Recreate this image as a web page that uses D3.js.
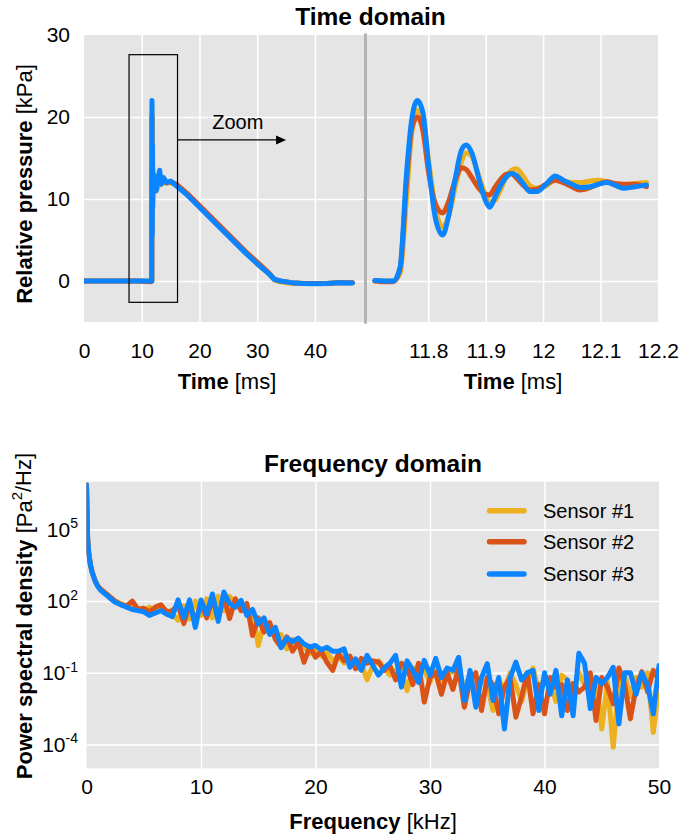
<!DOCTYPE html>
<html>
<head>
<meta charset="utf-8">
<script src="https://cdn.jsdelivr.net/npm/d3@7"></script>
<style>
  html, body { margin: 0; padding: 0; background: #fff; }
  svg { display: block; }
  text { font-family: "Liberation Sans", Arial, Helvetica, sans-serif; fill: #000; }
</style>
</head>
<body>
<svg id="chart" width="682" height="838"></svg>
<script>
// ---------------- DATA ----------------
const seriesNames = ["Sensor #1", "Sensor #2", "Sensor #3"];
const seriesColors = ["#EDB120", "#D95319", "#0A84FF"];

// Time domain, full record (ms, kPa)
const fullTime = [0, 3, 6, 9, 11.5, 11.74, 11.78, 11.82, 11.87, 11.91, 11.95, 12.2, 12.5, 12.8, 13.1, 13.4, 13.8, 14.3, 15, 16, 18, 20, 22, 24, 26, 28, 30, 32, 33, 34, 36, 38, 40, 42, 44, 46.5];
const fullP1 = [0, 0, 0, 0, 0, 0, 20.8, 6.6, 15.6, 9.6, 13.7, 11.2, 11.0, 11.4, 12.0, 11.9, 12.0, 11.9, 12.0, 11.7, 10.5, 9.1, 7.7, 6.3, 4.9, 3.5, 2.1, 0.9, 0.1, -0.1, -0.3, -0.3, -0.3, -0.3, -0.2, -0.2];
const fullP2 = [0, 0, 0, 0, -0.1, 0, 20.0, 8.3, 13.8, 10.5, 13.1, 12.0, 12.3, 12.5, 12.3, 12.1, 12.2, 12.0, 12.1, 11.8, 10.6, 9.2, 7.8, 6.4, 5.0, 3.6, 2.3, 1.0, 0.2, 0.0, -0.2, -0.3, -0.3, -0.3, -0.2, -0.2];
const fullP3 = [0, 0, 0, 0, 0, 0, 22.0, 5.6, 16.6, 9.0, 13.0, 11.8, 11.0, 12.5, 13.5, 11.8, 12.6, 12.0, 12.2, 11.6, 10.4, 9.0, 7.6, 6.2, 4.8, 3.4, 2.1, 0.9, 0.2, 0.0, -0.2, -0.3, -0.35, -0.3, -0.2, -0.25];

// Time domain, zoomed record (ms, kPa)
const zoomTime = [11.707, 11.725, 11.739, 11.751, 11.762, 11.771, 11.781, 11.791, 11.80, 11.812, 11.825, 11.835, 11.847, 11.858, 11.866, 11.876, 11.888, 11.899, 11.907, 11.916, 11.925, 11.935, 11.945, 11.953, 11.965, 11.977, 11.989, 12.005, 12.021, 12.035, 12.05, 12.064, 12.082, 12.096, 12.111, 12.125, 12.140, 12.160, 12.180];
const zoomP1 = [0.0, 0.0, 0.0, 1.0, 10, 18, 20.8, 19.8, 15, 9, 6.6, 7.8, 11.5, 14.6, 15.6, 15.2, 12.8, 10.6, 9.6, 9.8, 11.0, 12.6, 13.5, 13.7, 12.8, 11.6, 11.3, 11.6, 12.3, 12.2, 12.0, 12.0, 12.2, 12.3, 12.1, 11.8, 11.7, 11.9, 12.0];
const zoomP2 = [0.0, -0.1, -0.1, 1.5, 12, 18.5, 20.0, 18.2, 13.5, 9.5, 8.3, 9.6, 12.3, 13.8, 13.6, 12.6, 11.3, 10.6, 10.5, 11.4, 12.3, 13.0, 13.1, 12.6, 11.7, 11.1, 11.2, 11.8, 12.3, 12.0, 11.5, 11.1, 11.4, 11.8, 12.1, 11.9, 11.8, 11.8, 11.5];
const zoomP3 = [0.05, 0.0, 0.0, 1.7, 13, 19.6, 22.0, 20.4, 14.5, 7.8, 5.6, 7.8, 12.5, 16.0, 16.6, 15.6, 12.5, 9.9, 9.0, 10.2, 11.5, 12.6, 13.1, 12.9, 11.9, 10.9, 10.9, 11.8, 12.8, 12.3, 11.8, 11.4, 11.5, 11.8, 12.0, 11.7, 11.3, 11.5, 11.7];

// Zoom box (ms, kPa) and arrow tip
const zoomBoxTime = [7.8, 16.2];
const zoomBoxP = [-2.6, 27.6];
const arrowTime = [16.2, 35];
const arrowP = 17.2;

// Frequency domain (kHz) and log10 of PSD (Pa^2/Hz)
const freq = [0, 0.1, 0.2, 0.35, 0.5, 0.75, 1, 1.25, 1.5, 1.75,
  2, 2.5, 3, 3.5, 4, 4.5, 5, 5.5, 6, 6.5, 7, 7.5, 8, 8.5, 9, 9.5, 10, 10.5, 11, 11.5,
  12, 12.5, 13, 13.5, 14, 14.5, 15, 15.5, 16, 16.5, 17, 17.5, 18, 18.5, 19, 19.5, 20, 20.5, 21, 21.5,
  22, 22.5, 23, 23.5, 24, 24.5, 25, 25.5, 26, 26.5, 27, 27.5, 28, 28.5, 29, 29.5, 30, 30.5, 31, 31.5,
  32, 32.5, 33, 33.5, 34, 34.5, 35, 35.5, 36, 36.5, 37, 37.5, 38, 38.5, 39, 39.5, 40, 40.5, 41, 41.5,
  42, 42.5, 43, 43.5, 44, 44.5, 45, 45.5, 46, 46.5, 47, 47.5, 48, 48.5, 49, 49.5, 50];
const psd1Log10 = [6.85, 4.62, 4.02, 3.52, 3.22, 2.87, 2.63, 2.5, 2.4, 2.3,
  2.2, 2.0, 1.9, 1.8, 1.75, 1.7, 1.6, 1.75, 1.5, 1.7,
  1.6, 1.45, 1.2, 1.8, 1.25, 2.0, 1.4, 2.1, 1.3, 2.2,
  1.6, 2.2, 1.8, 1.9, 1.5, 1.6, 0.14, 1.1, 0.8, 0.5,
  0.6, 0.0, 0.4, 0.2, 0.1, -0.2, 0.0, -0.3, -0.15, -0.5,
  -0.3, -0.6, -0.4, -0.5, -0.6, -1.3, -0.7, -0.5, -0.8, -1.1,
  -0.9, -0.9, -1.75, -0.8, -1.2, -0.9, -1.4, -0.7, -1.3, -1.1,
  -0.9, -1.2, -1.6, -1.1, -1.9, -1.3, -1.5, -2.58, -1.3, -1.7,
  -1.0, -1.5, -2.2, -1.3, -0.8, -1.8, -1.2, -1.4, -2.2, -1.1,
  -1.3, -1.9, -1.0, -1.5, -1.9, -1.2, -3.35, -1.4, -4.12, -1.5,
  -1.1, -2.0, -1.2, -1.6, -1.0, -3.5, -1.5];
const psd2Log10 = [6.85, 4.6, 4.0, 3.5, 3.2, 2.85, 2.62, 2.5, 2.4, 2.3,
  2.2, 2.0, 1.85, 1.8, 2.0, 1.65, 1.7, 1.55, 1.75, 1.85,
  1.55, 1.6, 1.85, 1.06, 1.9, 1.14, 1.9, 1.3, 2.1, 1.33,
  2.2, 1.27, 2.1, 1.6, 1.9, 0.56, 1.3, 0.7, 1.1, 0.4,
  0.07, 0.5, -0.1, 0.3, -0.56, 0.1, -0.35, -0.1, -0.56, -0.9,
  -0.2, -0.5, -0.3, -0.83, -0.4, -0.6, -0.5, -0.55, -0.9, -0.7,
  -1.3, -0.6, -0.8, -1.5, -0.6, -2.23, -1.2, -1.0, -1.9, -1.0,
  -1.7, -0.8, -2.44, -1.3, -1.0, -2.58, -1.2, -1.5, -2.72, -1.6,
  -1.2, -2.86, -2.0, -1.0, -2.72, -1.5, -2.72, -1.2, -1.6, -1.5,
  -2.58, -1.45, -1.8, -1.6, -1.0, -3.0, -1.2, -1.6, -2.3, -0.8,
  -1.5, -2.93, -1.6, -0.95, -1.8, -0.9, -1.3];
const psd3Log10 = [6.87, 4.6, 4.0, 3.5, 3.2, 2.85, 2.6, 2.45, 2.35, 2.25,
  2.15, 1.95, 1.85, 1.75, 1.65, 1.6, 1.55, 1.4, 1.5, 1.6,
  1.45, 1.35, 2.05, 1.3, 2.05, 0.9, 2.05, 1.45, 2.3, 1.15,
  2.38, 1.9, 1.75, 2.03, 1.4, 1.65, 1.05, 1.3, 0.6, 0.9,
  0.05, 0.45, 0.3, 0.45, 0.2, 0.08, 0.14, -0.04, 0.07, -0.1,
  -0.1, 0.0, -0.77, -0.42, -0.9, -0.27, -0.69, -1.1, -0.8, -0.6,
  -0.27, -1.6, -0.5, -0.9, -1.4, -0.48, -1.1, -0.4, -1.2, -0.8,
  -0.9, -0.35, -2.16, -0.9, -2.44, -1.2, -0.62, -2.16, -1.2, -3.35,
  -1.2, -0.55, -1.3, -1.0, -0.9, -2.58, -1.0, -1.9, -0.9, -2.8,
  -1.3, -2.8, -0.18, -0.6, -2.5, -1.2, -1.45, -1.2, -0.77, -3.14,
  -1.0, -1.0, -1.9, -1.0, -1.5, -2.72, -0.7];

// Tick values
const fullTimeTicks = [0, 10, 20, 30, 40];
const zoomTimeTicks = [11.8, 11.9, 12, 12.1, 12.2];
const pressureTicks = [0, 10, 20, 30];
const freqTicks = [0, 10, 20, 30, 40, 50];
const psdTickExp = [-4, -1, 2, 5];

// ---------------- DRAWING ----------------
const svg = d3.select("#chart");
const FONT_TICK = 21, FONT_LABEL = 22, FONT_TITLE = 24.5;
const bgColor = "#e5e5e5";

// Scales
const xL = d3.scaleLinear().domain([0, 48.5]).range([84, 364]);
const xR = d3.scaleLinear().domain([11.6933, 12.2]).range([367, 658]);
const yT = d3.scaleLinear().domain([-5, 30]).range([322, 35]);
const xB = d3.scaleLinear().domain([0, 50]).range([86.5, 659]);
const yB = d3.scaleLog().domain([1e-5, 1e7]).range([768.3, 481.7]);

const defs = svg.append("defs");
function clip(id, x0, x1, y0, y1) {
  defs.append("clipPath").attr("id", id).append("rect")
    .attr("x", x0).attr("y", y0).attr("width", x1 - x0).attr("height", y1 - y0);
}

// Panel backgrounds
function panel(xs, ys) {
  svg.append("rect").attr("x", xs.range()[0]).attr("y", ys.range()[1])
    .attr("width", xs.range()[1] - xs.range()[0])
    .attr("height", ys.range()[0] - ys.range()[1])
    .attr("fill", bgColor);
}
panel(xL, yT); panel(xR, yT); panel(xB, yB);
clip("clipL", 84, 364, 35, 322);
clip("clipR", 367, 658, 35, 322);
clip("clipB", 86.5, 659, 481.7, 768.3);

// Gridlines via axes
function vGrid(xs, ys, ticks) {
  const inner = ticks.filter(t => xs(t) > xs.range()[0] + 1 && xs(t) < xs.range()[1] - 1);
  svg.append("g").attr("transform", `translate(0,${ys.range()[0]})`)
    .call(d3.axisBottom(xs).tickValues(inner).tickSize(-(ys.range()[0] - ys.range()[1])).tickFormat(""))
    .call(g => g.select(".domain").remove())
    .call(g => g.selectAll("line").attr("stroke", "#fff").attr("stroke-width", 1.5));
}
function hGrid(xs, ys, ticks) {
  const inner = ticks.filter(t => ys(t) < ys.range()[0] - 1 && ys(t) > ys.range()[1] + 1);
  svg.append("g").attr("transform", `translate(${xs.range()[0]},0)`)
    .call(d3.axisLeft(ys).tickValues(inner).tickSize(-(xs.range()[1] - xs.range()[0])).tickFormat(""))
    .call(g => g.select(".domain").remove())
    .call(g => g.selectAll("line").attr("stroke", "#fff").attr("stroke-width", 1.5));
}
vGrid(xL, yT, fullTimeTicks); hGrid(xL, yT, pressureTicks);
vGrid(xR, yT, zoomTimeTicks); hGrid(xR, yT, pressureTicks);
const psdTicks = psdTickExp.map(e => Math.pow(10, e));
vGrid(xB, yB, freqTicks); hGrid(xB, yB, psdTicks);

// Separator between full and zoomed views
svg.append("line").attr("x1", 365.5).attr("x2", 365.5).attr("y1", 34.5).attr("y2", 322.5)
  .attr("stroke", "#b3b3b3").attr("stroke-width", 3).attr("stroke-linecap", "round");

// Tick labels via axes
function styleTicks(g) {
  g.select(".domain").remove();
  g.selectAll("line").remove();
  g.selectAll("text").attr("font-size", FONT_TICK).attr("fill", "#000")
    .attr("font-family", '"Liberation Sans", Arial, sans-serif');
}
svg.append("g").attr("transform", `translate(0,${yT.range()[0]})`)
  .call(d3.axisBottom(xL).tickValues(fullTimeTicks).tickSize(0).tickPadding(20.6).tickFormat(d3.format("d")))
  .call(styleTicks);
svg.append("g").attr("transform", `translate(0,${yT.range()[0]})`)
  .call(d3.axisBottom(xR).tickValues(zoomTimeTicks).tickSize(0).tickPadding(20.6).tickFormat(d => String(+d.toFixed(1))))
  .call(styleTicks);
svg.append("g").attr("transform", `translate(${xL.range()[0]},0)`)
  .call(d3.axisLeft(yT).tickValues(pressureTicks).tickSize(0).tickPadding(14).tickFormat(d3.format("d")))
  .call(styleTicks);
svg.append("g").attr("transform", `translate(0,${yB.range()[0]})`)
  .call(d3.axisBottom(xB).tickValues(freqTicks).tickSize(0).tickPadding(11).tickFormat(d3.format("d")))
  .call(styleTicks);
svg.append("g").attr("transform", `translate(${xB.range()[0]},0)`)
  .call(d3.axisLeft(yB).tickValues(psdTicks).tickSize(0).tickPadding(8.5).tickFormat(() => ""))
  .call(styleTicks)
  .call(g => g.selectAll(".tick text").each(function(d) {
    const t = d3.select(this);
    const e = Math.round(Math.log10(d));
    t.text(null);
    t.append("tspan").text("10");
    t.append("tspan").attr("font-size", 14).attr("dy", "-0.6em").text(String(e));
  }));

// Lines
const lineL = d3.line().x(d => xL(d[0])).y(d => yT(d[1])).curve(d3.curveLinear);
const lineR = d3.line().x(d => xR(d[0])).y(d => yT(d[1])).curve(d3.curveMonotoneX);
const lineB = d3.line().x(d => xB(d[0])).y(d => yB(Math.pow(10, d[1]))).curve(d3.curveLinear);

const fullSeries = [fullP1, fullP2, fullP3];
const zoomSeries = [zoomP1, zoomP2, zoomP3];
const psdSeries = [psd1Log10, psd2Log10, psd3Log10];

const gL = svg.append("g").attr("clip-path", "url(#clipL)");
const gR = svg.append("g").attr("clip-path", "url(#clipR)");
const gB = svg.append("g").attr("clip-path", "url(#clipB)");
fullSeries.forEach((vals, i) => {
  gL.append("path").datum(fullTime.map((t, k) => [t, vals[k]]))
    .attr("d", lineL).attr("fill", "none").attr("stroke", seriesColors[i])
    .attr("stroke-width", 5).attr("stroke-linejoin", "round").attr("stroke-linecap", "round");
});
zoomSeries.forEach((vals, i) => {
  gR.append("path").datum(zoomTime.map((t, k) => [t, vals[k]]))
    .attr("d", lineR).attr("fill", "none").attr("stroke", seriesColors[i])
    .attr("stroke-width", 5).attr("stroke-linejoin", "round").attr("stroke-linecap", "round");
});
psdSeries.forEach((vals, i) => {
  gB.append("path").datum(freq.map((f, k) => [f, vals[k]]))
    .attr("d", lineB).attr("fill", "none").attr("stroke", seriesColors[i])
    .attr("stroke-width", 5).attr("stroke-linejoin", "round").attr("stroke-linecap", "round");
});

// Zoom box + arrow
svg.append("rect")
  .attr("x", xL(zoomBoxTime[0])).attr("y", yT(zoomBoxP[1]))
  .attr("width", xL(zoomBoxTime[1]) - xL(zoomBoxTime[0]))
  .attr("height", yT(zoomBoxP[0]) - yT(zoomBoxP[1]))
  .attr("fill", "none").attr("stroke", "#000").attr("stroke-width", 1.2);
const ax0 = xL(arrowTime[0]), ax1 = xL(arrowTime[1]), ay = yT(arrowP);
svg.append("line").attr("x1", ax0).attr("x2", ax1 - 8).attr("y1", ay).attr("y2", ay)
  .attr("stroke", "#000").attr("stroke-width", 1.3);
svg.append("path").attr("d", `M${ax1},${ay} L${ax1 - 10},${ay - 4.5} L${ax1 - 10},${ay + 4.5} Z`).attr("fill", "#000");
svg.append("text").attr("x", (ax0 + ax1) / 2 + 6).attr("y", 129).attr("text-anchor", "middle")
  .attr("font-size", 20).text("Zoom");

// Titles
svg.append("text").attr("x", 370.5).attr("y", 25).attr("text-anchor", "middle")
  .attr("font-size", FONT_TITLE).attr("font-weight", "bold").text("Time domain");
svg.append("text").attr("x", 373).attr("y", 471.5).attr("text-anchor", "middle")
  .attr("font-size", FONT_TITLE).attr("font-weight", "bold").text("Frequency domain");

// Axis labels
function xLabel(x, y, bold, normal) {
  const t = svg.append("text").attr("x", x).attr("y", y).attr("text-anchor", "middle").attr("font-size", FONT_LABEL);
  t.append("tspan").attr("font-weight", "bold").text(bold);
  t.append("tspan").text(normal);
  return t;
}
xLabel(227, 389, "Time", " [ms]");
xLabel(513, 389, "Time", " [ms]");
xLabel(373, 829, "Frequency", " [kHz]");

const yl1 = svg.append("text").attr("transform", "translate(31.5,184) rotate(-90)")
  .attr("text-anchor", "middle").attr("font-size", FONT_LABEL);
yl1.append("tspan").attr("font-weight", "bold").text("Relative pressure");
yl1.append("tspan").text(" [kPa]");

const yl2 = svg.append("text").attr("transform", "translate(31.5,616) rotate(-90)")
  .attr("text-anchor", "middle").attr("font-size", FONT_LABEL);
yl2.append("tspan").attr("font-weight", "bold").text("Power spectral density");
yl2.append("tspan").text(" [Pa");
yl2.append("tspan").attr("font-size", 15).attr("dy", "-0.65em").text("2");
yl2.append("tspan").attr("dy", "0.43em").text("/Hz]");

// Legend
const legY = [510.7, 541.7, 574];
seriesNames.forEach((name, i) => {
  svg.append("line").attr("x1", 489.5).attr("x2", 524).attr("y1", legY[i]).attr("y2", legY[i])
    .attr("stroke", seriesColors[i]).attr("stroke-width", 5.5).attr("stroke-linecap", "round");
  svg.append("text").attr("x", 543).attr("y", legY[i]).attr("dy", "0.35em")
    .attr("font-size", 20).text(name);
});
</script>
</body>
</html>
